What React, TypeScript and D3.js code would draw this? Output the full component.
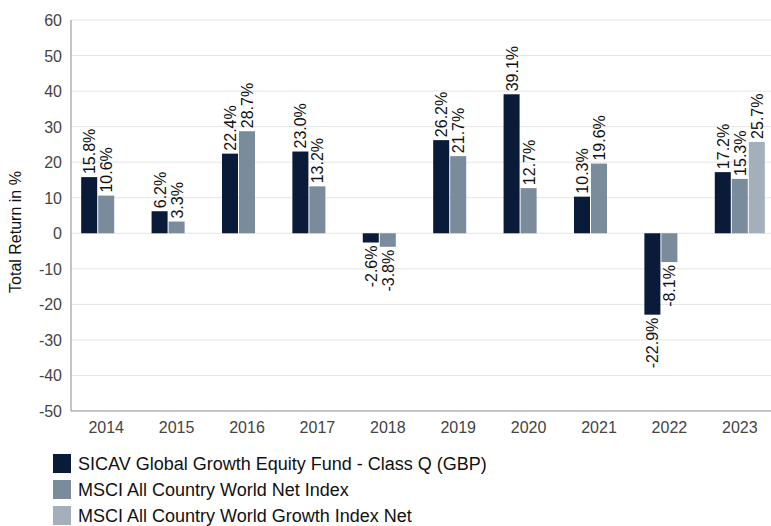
import React, { useEffect, useRef } from "react";
import * as d3 from "d3";

const years = ["2014", "2015", "2016", "2017", "2018", "2019", "2020", "2021", "2022", "2023"];
const seriesNames = [
  "SICAV Global Growth Equity Fund - Class Q (GBP)",
  "MSCI All Country World Net Index",
  "MSCI All Country World Growth Index Net",
];
const fundValues: (number | null)[] = [15.8, 6.2, 22.4, 23.0, -2.6, 26.2, 39.1, 10.3, -22.9, 17.2];
const acwiValues: (number | null)[] = [10.6, 3.3, 28.7, 13.2, -3.8, 21.7, 12.7, 19.6, -8.1, 15.3];
const growthValues: (number | null)[] = [null, null, null, null, null, null, null, null, null, 25.7];
const yTicks = [-50, -40, -30, -20, -10, 0, 10, 20, 30, 40, 50, 60];
const colors = ["#0a1b39", "#7a8b9b", "#a3afbb"];

export default function App() {
  const ref = useRef<SVGSVGElement>(null);
  useEffect(() => {
    const svg = d3.select(ref.current);
    svg.selectAll("*").remove();
    const W = 771;
    const left = 71, top = 20, bottom = 411;
    const font = "'Liberation Sans', Arial, sans-serif";
    const y = d3.scaleLinear().domain([-50, 60]).range([bottom, top]);
    const x0 = d3.scaleBand().domain(years).range([left, 775]).paddingInner(0.275).paddingOuter(0.1375);
    const x1 = d3.scaleBand().domain(["0", "1", "2"]).range([0, x0.bandwidth()]);

    svg.append("g").selectAll("line").data(yTicks.filter(t => t !== -50)).join("line")
      .attr("x1", left).attr("x2", W).attr("y1", d => y(d)).attr("y2", d => y(d))
      .attr("stroke", "#e4e4e4").attr("stroke-width", 1);

    const series = [fundValues, acwiValues, growthValues];
    const g = svg.append("g");
    series.forEach((vals, si) => {
      years.forEach((yr, i) => {
        const v = vals[i];
        if (v === null || v === undefined) return;
        const bx = (x0(yr) as number) + (x1(String(si)) as number);
        const bw = x1.bandwidth();
        const y0 = y(0), yv = y(v);
        g.append("rect")
          .attr("x", bx + 0.5).attr("width", bw - 1)
          .attr("y", Math.min(y0, yv)).attr("height", Math.abs(yv - y0))
          .attr("fill", colors[si]);
        const cx = bx + bw / 2;
        const ty = v >= 0 ? yv - 3 : yv + 3;
        g.append("text")
          .attr("transform", `translate(${cx + 6},${ty}) rotate(-90)`)
          .attr("text-anchor", v >= 0 ? "start" : "end")
          .attr("font-family", font).attr("font-size", 16).attr("fill", "#111")
          .text(v.toFixed(1) + "%");
      });
    });

    svg.append("line").attr("x1", left).attr("x2", left).attr("y1", top).attr("y2", bottom)
      .attr("stroke", "#8c8c8c");
    svg.append("line").attr("x1", left).attr("x2", W).attr("y1", bottom).attr("y2", bottom)
      .attr("stroke", "#8c8c8c");

    svg.append("g").selectAll("text").data(yTicks).join("text")
      .attr("x", 62).attr("y", d => y(d) + 6).attr("text-anchor", "end")
      .attr("font-family", font).attr("font-size", 16).attr("fill", "#444")
      .text(d => String(d));

    svg.append("g").selectAll("text").data(years).join("text")
      .attr("x", d => (x0(d) as number) + x0.bandwidth() / 2).attr("y", 433)
      .attr("text-anchor", "middle")
      .attr("font-family", font).attr("font-size", 16).attr("fill", "#444")
      .text(d => d);

    svg.append("text")
      .attr("transform", `translate(21,232) rotate(-90)`)
      .attr("text-anchor", "middle")
      .attr("font-family", font).attr("font-size", 16).attr("fill", "#111")
      .text("Total Return in %");

    const leg = svg.append("g");
    seriesNames.forEach((name, i) => {
      const ly = 454 + i * 26;
      leg.append("rect").attr("x", 53).attr("y", ly).attr("width", 18).attr("height", 19).attr("fill", colors[i]);
      leg.append("text").attr("x", 78).attr("y", ly + 16)
        .attr("font-family", font).attr("font-size", 18).attr("fill", "#111").text(name);
    });
  }, []);
  return (
    <svg ref={ref} width={771} height={526}
      style={{ position: "absolute", left: 0, top: 0, background: "#fff" }} />
  );
}
